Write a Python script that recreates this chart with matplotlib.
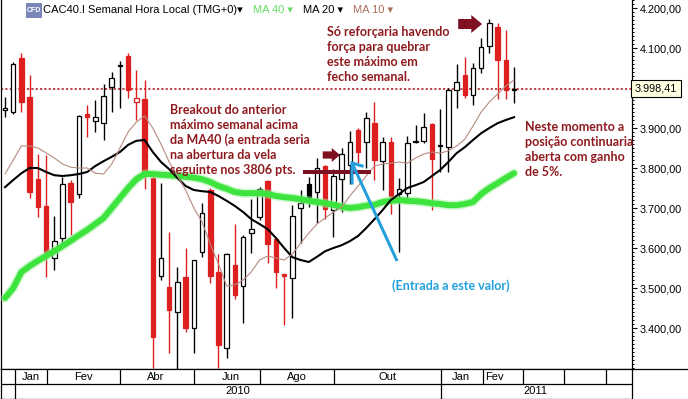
import matplotlib
matplotlib.use("Agg")
import matplotlib.pyplot as plt
from matplotlib.patches import Rectangle, Polygon
from matplotlib.ticker import MultipleLocator, FixedLocator, FuncFormatter
from matplotlib.lines import Line2D

# weekly CAC40 candles (Dec 2009 .. Feb 2011)
opens = [3945, 3940, 4075, 3978, 3772, 3705, 3575, 3625, 3762, 3735,
         3935, 3917, 3912, 4002, 4057, 4080, 3965, 3972, 3775, 3530,
         3502, 3440, 3527, 3400, 3590, 3745, 3540, 3350, 3557, 3505,
         3637, 3677, 3767, 3622, 3535, 3525, 3700, 3760, 3740, 3805,
         3695, 3772, 3807, 3895, 3865, 3912, 3817, 3865, 3735, 3737,
         3865, 3867, 3910, 3858, 3852, 3995, 4032, 3982, 4050, 4105,
         4152, 4070, 3995]
highs = [3978, 4065, 4087, 4032, 3835, 3832, 3680, 3777, 3770, 3932,
         3957, 3970, 4010, 4040, 4067, 4087, 4045, 4020, 3782, 3762,
         3640, 3552, 3600, 3570, 3712, 3750, 3585, 3587, 3660, 3632,
         3722, 3752, 3770, 3627, 3535, 3707, 3745, 3777, 3825, 3807,
         3797, 3850, 3892, 3900, 3940, 3965, 3877, 3877, 3775, 3880,
         3907, 3937, 3912, 3947, 4000, 4060, 4077, 4062, 4125, 4172,
         4162, 4145, 4052]
lows = [3928, 3935, 3940, 3725, 3677, 3527, 3545, 3612, 3632, 3725,
        3877, 3890, 3870, 3940, 3950, 3975, 3920, 3747, 3300, 3520,
        3337, 3295, 3390, 3337, 3577, 3512, 3300, 3325, 3472, 3412,
        3587, 3670, 3562, 3500, 3407, 3425, 3612, 3702, 3662, 3672,
        3627, 3690, 3760, 3812, 3800, 3770, 3745, 3685, 3590, 3717,
        3862, 3862, 3695, 3790, 3790, 3950, 3975, 3957, 4037, 4087,
        3972, 3972, 3962]
closes = [3950, 4060, 3965, 3740, 3702, 3590, 3617, 3760, 3715, 3930,
          3927, 3928, 3980, 4025, 4055, 3995, 3975, 3790, 3377, 3575,
          3445, 3515, 3400, 3570, 3687, 3530, 3357, 3585, 3482, 3627,
          3647, 3747, 3610, 3540, 3530, 3680, 3712, 3727, 3800, 3697,
          3780, 3835, 3865, 3840, 3925, 3820, 3865, 3730, 3747, 3862,
          3868, 3902, 3822, 3855, 3995, 4015, 3982, 4050, 4102, 4162,
          4070, 3995, 3998.41]

ma40 = [3475, 3500, 3540, 3555, 3568, 3580, 3592, 3605, 3618, 3632,
        3645, 3660, 3675, 3700, 3725, 3750, 3772, 3785, 3785, 3783,
        3782, 3780, 3778, 3776, 3772, 3765, 3755, 3748, 3740, 3737,
        3737, 3737, 3735, 3730, 3727, 3725, 3722, 3718, 3715, 3712,
        3708, 3703, 3700, 3702, 3706, 3708, 3715, 3718, 3720, 3718,
        3717, 3715, 3712, 3710, 3707, 3707, 3710, 3715, 3735, 3750,
        3762, 3775, 3787]
ma20 = [3752, 3770, 3787, 3800, 3800, 3790, 3782, 3780, 3782, 3785,
        3790, 3805, 3817, 3828, 3840, 3858, 3868, 3870, 3840, 3815,
        3797, 3775, 3755, 3745, 3742, 3740, 3730, 3718, 3705, 3690,
        3672, 3660, 3647, 3625, 3600, 3577, 3570, 3565, 3578, 3592,
        3600, 3607, 3617, 3630, 3650, 3672, 3695, 3720, 3735, 3750,
        3757, 3765, 3780, 3795, 3815, 3837, 3852, 3870, 3887, 3900,
        3912, 3920, 3927]
ma10 = [3785, 3820, 3855, 3855, 3850, 3838, 3825, 3810, 3802, 3800,
        3800, 3787, 3785, 3810, 3850, 3890, 3915, 3930, 3900, 3860,
        3815, 3780, 3745, 3700, 3665, 3610, 3560, 3505, 3508, 3520,
        3540, 3570, 3580, 3575, 3570, 3585, 3612, 3637, 3660, 3675,
        3690, 3702, 3730, 3755, 3780, 3805, 3810, 3812, 3815, 3812,
        3825, 3835, 3840, 3837, 3843, 3855, 3872, 3905, 3940, 3965,
        3985, 4005, 4020]

last_price = 3998.41
breakout_level = 3790

price_ticks = [3400, 3500, 3600, 3700, 3800, 3900, 4000, 4100, 4200]
month_labels = ["Jan", "Fev", "Abr", "Jun", "Ago", "Out", "Jan", "Fev"]
month_label_pos = [3.1, 9.5, 18.3, 27.5, 35.6, 46.6, 55.5, 59.6]
month_edges = [1.2, 5.1, 14.0, 23.0, 31.1, 40.1, 53.1, 58.2, 63.1, 68.1, 73.2]
year_labels = ["2010", "2011"]
year_label_pos = [28.3, 64.6]
year_edges = [1.2, 53.1]

W, H = 688, 399
XMIN, XMAX = -0.49, 76.37
YMIN, YMAX = 3297.5, 4220
RED = "#de1f1f"
NOTE = "#8e1a1e"
BLUE = "#23a0dc"
NOTE_FONT = dict(family="Lato", fontweight="bold", fontsize=9)


def fx(px):
    return px / W


def fy(py):
    return 1 - py / H


def price_fmt(v, _pos=None):
    return f"{v:,.2f}".replace(",", "X").replace(".", ",").replace("X", ".")


def axis_fmt(v, _pos=None):
    # the last-price box hides the label right under it
    if abs(v - last_price) < 20:
        return ""
    return price_fmt(v)


fig = plt.figure(figsize=(W / 100, H / 100), dpi=100)
ax = fig.add_axes([fx(1), 30 / H, 631 / W, 369 / H])
ax.set_xlim(XMIN, XMAX)
ax.set_ylim(YMIN, YMAX)

# candles: hollow = close > open, red = close below previous close
BW = 0.55
for i, (o, h, l, c) in enumerate(zip(opens, highs, lows, closes)):
    prev = closes[i - 1] if i else o
    col = RED if c < prev else "black"
    ax.vlines(i, l, h, color=col, lw=1, zorder=3)
    lo, hi = min(o, c), max(o, c)
    fill = col if c < o else "white"
    ax.add_patch(Rectangle((i - BW / 2, lo), BW, max(hi - lo, 3), facecolor=fill,
                           edgecolor=col, lw=0.9, zorder=4))

xs = list(range(len(closes)))
ax.plot(xs, ma40, color="#9cf09c", lw=6.5, alpha=0.5, zorder=5, solid_capstyle="round")
ax.plot(xs, ma40, color="#3de43d", lw=4.3, zorder=5, solid_capstyle="round")
ax.plot(xs, ma20, color="black", lw=1.5, zorder=6)
ax.plot(xs, ma10, color="#b48c80", lw=0.8, zorder=6)

ax.axhline(last_price, color="#b02228", lw=1.2, linestyle=(0, (1.3, 1.3)), zorder=2)

# annotations
ax.hlines(breakout_level, 36.3, 44.6, color="#7a1222", lw=2.9, zorder=7)


def block_arrow(x0, xh, xt, yc, hs, hh):
    pts = [(x0, yc - hs), (xh, yc - hs), (xh, yc - hh), (xt, yc),
           (xh, yc + hh), (xh, yc + hs), (x0, yc + hs)]
    ax.add_patch(Polygon(pts, closed=True, facecolor="#7e1020", edgecolor="none", zorder=8))


block_arrow(38.7, 39.8, 40.8, 3832.5, 9, 17.5)
block_arrow(55.2, 56.8, 58.1, 4160, 12.5, 22.5)

ax.plot([47.75, 42.27], [3567.5, 3812.5], color=BLUE, lw=2.2, zorder=8, solid_capstyle="butt")
ax.plot([42.27, 42.27, 43.5], [3762.5, 3812.5, 3805], color=BLUE, lw=2.2, zorder=8,
        solid_joinstyle="miter")

ax.set_xticks([])
ax.yaxis.tick_right()
ax.yaxis.set_major_locator(FixedLocator(price_ticks))
ax.yaxis.set_minor_locator(MultipleLocator(10))
ax.yaxis.set_major_formatter(FuncFormatter(axis_fmt))
ax.tick_params(axis="y", which="major", direction="out", length=3.6, width=0.8, pad=1.8,
               labelsize=7.8)
ax.tick_params(axis="y", which="minor", direction="out", length=1.6, width=0.7)
for lab in ax.get_yticklabels():
    lab.set_family("Liberation Sans")
for sp in ax.spines.values():
    sp.set_linewidth(0.9)
ax.spines["top"].set_visible(False)

ax.text(1 + 3 / 631, last_price, price_fmt(last_price), transform=ax.get_yaxis_transform(),
        ha="left", va="center", fontsize=7.8, family="Liberation Sans", zorder=9,
        bbox=dict(boxstyle="square,pad=0.35", fc="#ffffe1", ec="black", lw=0.8))

# header
fig.patches.append(Rectangle((fx(26), fy(18)), 16 / W, 15 / H, transform=fig.transFigure,
                             facecolor="#7a86b8", edgecolor="none"))
fig.text(fx(34), fy(10.5), "CFD", color="white", fontsize=5, ha="center", va="center",
         family="Liberation Sans", fontweight="bold")
hdr = dict(fontsize=8, va="center", family=["Liberation Sans", "DejaVu Sans"])
fig.text(fx(43), fy(10), "CAC40.I Semanal Hora Local (TMG+0)\u25be", color="black", **hdr)
fig.text(fx(253), fy(10), "MA 40 \u25be", color="#66dd66", **hdr)
fig.text(fx(303), fy(10), "MA 20 \u25be", color="black", **hdr)
fig.text(fx(353), fy(10), "MA 10 \u25be", color="#a86e5a", **hdr)

# text notes
notes = [
    (170, 110, ["Breakout do anterior", "máximo semanal acima", "da MA40 (a entrada seria",
                "na abertura da vela", "seguinte nos 3806 pts."], NOTE),
    (327, 32, ["Só reforçaria havendo", "força para quebrar", "este máximo em",
               "fecho semanal."], NOTE),
    (525, 127, ["Neste momento a", "posição continuaria", "aberta com ganho", "de 5%."], NOTE),
    (392, 286, ["(Entrada a este valor)"], BLUE),
]
for x0, y0, lines, col in notes:
    for k, line in enumerate(lines):
        fig.text(fx(x0), fy(y0 + 15 * k), line, color=col, ha="left", va="center",
                 zorder=10, **NOTE_FONT)

# date bar
axd = fig.add_axes([fx(1), 0, 631 / W, 30 / H])
axd.set_xlim(XMIN, XMAX)
axd.set_ylim(0, 2)
axd.set_xticks([])
axd.set_yticks([])
axd.axhline(1, color="black", lw=0.9)
axd.vlines(month_edges, 1, 2, color="black", lw=0.9)
axd.vlines(year_edges, 0, 1, color="black", lw=0.9)
for lab, p in zip(month_labels, month_label_pos):
    axd.text(p, 1.5, lab, ha="center", va="center", fontsize=8, family="Liberation Sans")
for lab, p in zip(year_labels, year_label_pos):
    axd.text(p, 0.5, lab, ha="center", va="center", fontsize=8, family="Liberation Sans")
for sp in axd.spines.values():
    sp.set_linewidth(0.9)

fig.add_artist(Line2D([fx(632), 1], [fy(369), fy(369)], transform=fig.transFigure,
                      color="black", lw=0.9))

fig.savefig("out.png", dpi=100)
